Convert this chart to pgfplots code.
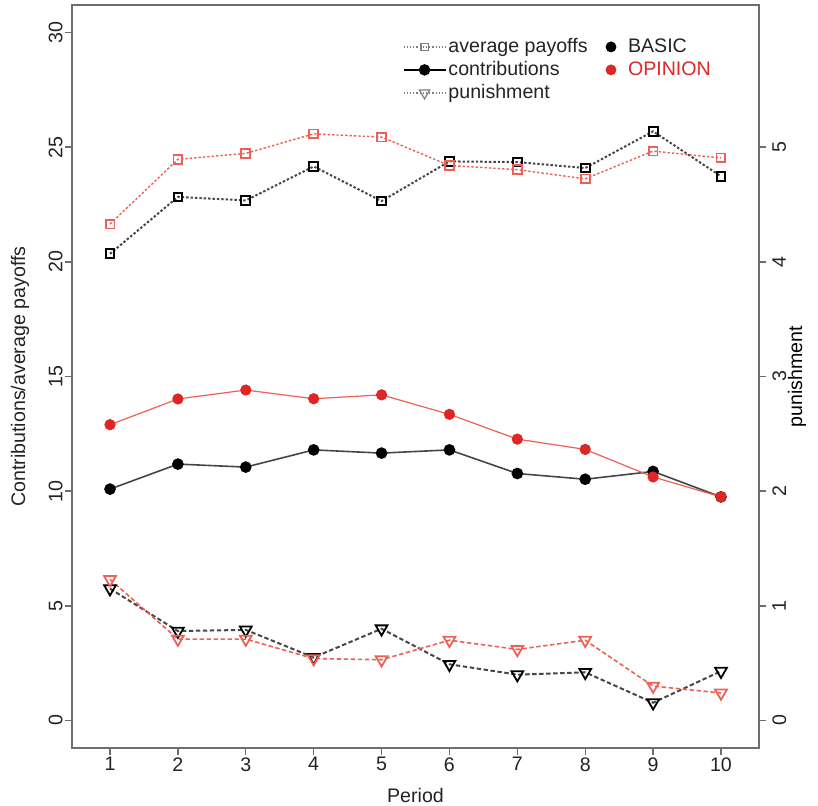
\documentclass[border=0pt]{standalone}
\usepackage{fontspec}
\setmainfont{Liberation Sans}
\usepackage{graphicx}
\usepackage{pgfplots}
\usepackage{pgfplotstable}
\pgfplotsset{compat=1.18}

\definecolor{rred}{RGB}{222,38,38}
\definecolor{rline}{RGB}{236,96,86}
\definecolor{bline}{RGB}{70,70,70}
\definecolor{frame}{RGB}{110,110,110}
\definecolor{txt}{RGB}{35,35,35}

% period, payoffs basic/opinion, contributions basic/opinion, punishment basic/opinion
\pgfplotstableread{
p payB payO conB conO punB punO
1 20.35 21.65 10.09 12.90 1.15 1.23
2 22.83 24.47 11.18 14.02 0.78 0.71
3 22.68 24.73 11.05 14.41 0.79 0.71
4 24.16 25.58 11.80 14.03 0.55 0.54
5 22.65 25.44 11.66 14.20 0.80 0.53
6 24.38 24.20 11.80 13.35 0.49 0.70
7 24.35 24.02 10.77 12.27 0.40 0.62
8 24.09 23.62 10.52 11.82 0.42 0.70
9 25.69 24.83 10.86 10.62 0.155 0.30
10 23.73 24.53 9.75 9.75 0.43 0.24
}\data

\pgfplotsset{
  common/.style={
    scale only axis, width=343.5pt, height=371.5pt,
    xmin=0.44, xmax=10.56,
    font=\fontsize{9.8}{11}\selectfont, every tick label/.append style={text=txt},
    /pgf/number format/assume math mode=true,
    tick align=outside, major tick length=3.5pt,
    axis line style={frame, line width=0.7pt}, tick style={frame, line width=0.7pt},
    label style={text=txt},
  },
}

\begin{document}
\begin{tikzpicture}
\begin{axis}[common,
    ymin=-1.2, ymax=31.2,
    xtick={1,...,10}, ytick={0,5,...,30},
    xtick pos=bottom, ytick pos=left,
    yticklabel style={rotate=90, anchor=south, inner sep=1pt},
    xticklabel style={anchor=north, inner sep=1pt},
    xlabel={Period}, ylabel={Contributions/average payoffs},
    xlabel style={at={(axis description cs:0.5,-0.0633)}, anchor=center},
    ylabel style={at={(axis description cs:-0.0757,0.5)}, anchor=center, rotate=0},
    legend style={at={(rel axis cs:0.472,0.965)}, anchor=north west, draw=none, fill=none,
      font=\fontsize{9.8}{11}\selectfont, text=txt,
      nodes={inner sep=1pt, text height=7.5pt, text depth=2pt}, row sep=0pt},
    legend cell align=left,
    legend image code/.code={
      \draw[#1, mark=none] (0pt,0pt) -- (21pt,0pt);
      \draw[#1, solid] plot coordinates {(10.5pt,0pt)};
    },
]
\addlegendimage{gray, densely dotted, line width=0.6pt, mark=square, mark size=1.8pt, mark options={solid, line width=0.6pt}}
\addlegendentry{average payoffs}
\addlegendimage{black, line width=0.9pt, mark=*, mark size=2.4pt}
\addlegendentry{contributions}
\addlegendimage{gray, densely dotted, line width=0.6pt, mark=triangle, mark size=3pt, mark options={solid, rotate=180, line width=0.6pt}}
\addlegendentry{punishment}

% average payoffs
\addplot[forget plot, bline, line width=1pt, dash pattern=on 1.2pt off 1pt, mark=square, mark size=2.2pt,
  mark options={solid, black, line width=1pt}] table[x=p, y=payB] {\data};
\addplot[forget plot, rline, line width=0.7pt, dash pattern=on 1.2pt off 1pt, mark=square, mark size=2.2pt,
  mark options={solid, rline, line width=0.9pt}] table[x=p, y=payO] {\data};
% contributions
\addplot[forget plot, bline, line width=0.8pt, mark=*, mark size=2.5pt,
  mark options={black}] table[x=p, y=conB] {\data};
\addplot[forget plot, rline, line width=0.6pt, mark=*, mark size=2.5pt,
  mark options={rred}] table[x=p, y=conO] {\data};
\end{axis}

\begin{axis}[common,
    ymin=-0.24, ymax=6.24,
    xtick=\empty,
    ytick={0,1,...,5}, ytick pos=right, yticklabel pos=right,
    yticklabel={\rotatebox{90}{\pgfmathprintnumber{\tick}}},
    yticklabel style={anchor=west, inner sep=1pt, xshift=2pt},
    ylabel={punishment}, ylabel near ticks,
    ylabel style={at={(axis description cs:1.0553,0.5)}, anchor=center, rotate=0},
    legend style={at={(rel axis cs:0.768,0.965)}, anchor=north west, draw=none, fill=none,
      font=\fontsize{9.8}{11}\selectfont, text=txt,
      nodes={inner sep=1pt, text height=7.5pt, text depth=2pt}, row sep=0pt,
      /tikz/every odd column/.append style={column sep=5pt}},
    legend cell align=left,
    legend image code/.code={\draw[#1] plot coordinates {(2.5pt,0pt)};},
]
\addlegendimage{only marks, mark=*, mark size=2.5pt, black}
\addlegendentry{BASIC}
\addlegendimage{only marks, mark=*, mark size=2.5pt, rred}
\addlegendentry{\textcolor{rred}{OPINION}}

% punishment
\addplot[forget plot, bline, line width=1pt, dash pattern=on 2.2pt off 1.3pt, mark=triangle, mark size=3.4pt,
  mark options={solid, black, rotate=180, line width=0.9pt}] table[x=p, y=punB] {\data};
\addplot[forget plot, rline, line width=0.8pt, dash pattern=on 2.2pt off 1.3pt, mark=triangle, mark size=3.4pt,
  mark options={solid, rline, rotate=180, line width=0.9pt}] table[x=p, y=punO] {\data};
\end{axis}

\pgfresetboundingbox
\path[use as bounding box] (-36pt,-28.5pt) rectangle (373pt,374pt);
\end{tikzpicture}
\end{document}
